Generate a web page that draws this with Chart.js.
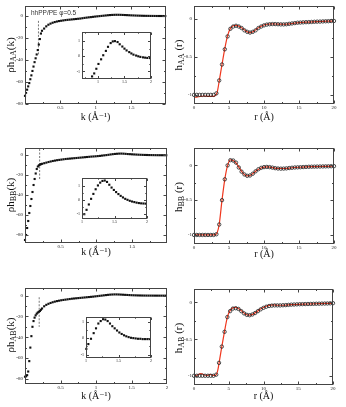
<!DOCTYPE html>
<html>
<head>
<meta charset="utf-8">
<script src="https://cdn.jsdelivr.net/npm/chart.js@4/dist/chart.umd.min.js"></script>
<style>
  html, body { margin: 0; padding: 0; background: #fff; }
  #page { position: relative; width: 346px; height: 407px; overflow: hidden; background: #fff; }
  #page canvas { position: absolute; }
  .ytitle { position: absolute; font-family: 'Liberation Serif', serif; font-size: 11px; color: #111;
            white-space: nowrap; line-height: 12px; transform: translate(-50%, -50%) rotate(-90deg); }
  .ytitle sub { font-size: 8px; vertical-align: -2px; line-height: 0; }
  .note { position: absolute; font-family: 'Liberation Sans', sans-serif; font-size: 6.5px; color: #333; white-space: nowrap; }
</style>
</head>
<body>
<div id="page"></div>
<script>
// ---- data ----

// k grid for the three structure-factor panels (1/A)
var kGrid = [0, 0.015, 0.03, 0.045, 0.06, 0.075, 0.09, 0.105, 0.12, 0.135, 0.15, 0.165, 0.18, 0.195, 0.21, 0.225, 0.24,
  0.27, 0.30, 0.33, 0.36, 0.39, 0.42, 0.45, 0.48, 0.51, 0.54, 0.57, 0.60, 0.63, 0.66, 0.69, 0.72, 0.75, 0.78, 0.81, 0.84, 0.87, 0.90, 0.93, 0.96, 0.99,
  1.02, 1.05, 1.08, 1.11, 1.14, 1.17, 1.20, 1.23, 1.26, 1.29, 1.32, 1.35, 1.38, 1.41, 1.44, 1.47, 1.50, 1.53, 1.56, 1.59, 1.62, 1.65, 1.68, 1.71, 1.74, 1.77, 1.80, 1.83, 1.86, 1.89, 1.92, 1.95, 1.98];

var rhoHAA = [-72.6, -70, -67, -64, -61, -57.5, -54, -50, -46, -42, -38.5, -35, -31, -26, -21, -16, -13.5,
  -11.5, -9.5, -8, -7, -6.2, -5.6, -5.1, -4.7, -4.4, -4.1, -3.8, -3.6, -3.4, -3.2, -3.0, -2.8, -2.6, -2.4, -2.1, -1.8, -1.55, -1.3, -1.1, -0.85, -0.6,
  -0.4, -0.2, 0, 0.2, 0.4, 0.6, 0.75, 0.9, 0.98, 1.02, 1.01, 0.97, 0.88, 0.8, 0.7, 0.6, 0.5, 0.42, 0.33, 0.26, 0.2, 0.14, 0.09, 0.05, 0.02, -0.01, -0.03, -0.05, -0.07, -0.08, -0.09, -0.1, -0.11];

var rhoHBB = [-85, -80, -73, -66, -58, -51, -44, -37, -30, -24, -18.5, -14, -11.5, -10.3, -9.6, -9.2, -8.8,
  -8.2, -7.6, -7.0, -6.5, -6.0, -5.6, -5.2, -4.9, -4.6, -4.3, -4.0, -3.8, -3.6, -3.4, -3.2, -3.0, -2.8, -2.6, -2.4, -2.2, -2.0, -1.8, -1.6, -1.45, -1.3,
  -1.1, -0.9, -0.6, -0.35, -0.1, 0.2, 0.53, 0.82, 1.06, 1.24, 1.38, 1.41, 1.32, 1.15, 0.97, 0.84, 0.68, 0.55, 0.43, 0.31, 0.21, 0.13, 0.06, 0.01, -0.05, -0.09, -0.12, -0.16, -0.19, -0.21, -0.22, -0.24, -0.24];

var rhoHAB = [-78, -77.6, -76.5, -73, -63, -50, -39, -30, -24.5, -21.2, -19, -17.4, -16.3, -15.5, -14.8, -13.6, -12.4,
  -10.3, -8.9, -7.9, -7.1, -6.4, -5.8, -5.3, -4.9, -4.5, -4.2, -3.9, -3.6, -3.3, -3.0, -2.8, -2.6, -2.4, -2.2, -2.0, -1.8, -1.6, -1.4, -1.2, -1.0, -0.75,
  -0.52, -0.26, -0.02, 0.23, 0.48, 0.72, 0.93, 1.05, 1.13, 1.13, 1.06, 0.96, 0.84, 0.71, 0.6, 0.49, 0.38, 0.3, 0.23, 0.16, 0.11, 0.07, 0.03, 0.01, -0.01, -0.02, -0.03, -0.04, -0.05, -0.06, -0.06, -0.06, -0.06];

// insets (zoom on the peak)
var insetKAA = [0.89, 0.93, 0.97, 1.01, 1.06, 1.10, 1.15, 1.19, 1.24, 1.28, 1.32, 1.37, 1.41, 1.46, 1.50, 1.54, 1.59, 1.63, 1.67, 1.72, 1.76, 1.80, 1.85, 1.89, 1.93, 1.98];
var insetHAA = [-1.33, -1.13, -0.82, -0.5, -0.19, 0.08, 0.37, 0.64, 0.89, 1.0, 1.02, 0.96, 0.81, 0.66, 0.52, 0.40, 0.29, 0.20, 0.12, 0.06, 0.01, -0.03, -0.06, -0.08, -0.10, -0.11];

var insetKBB = [1.035, 1.07, 1.105, 1.14, 1.175, 1.21, 1.245, 1.28, 1.315, 1.35, 1.385, 1.42, 1.455, 1.49, 1.525, 1.56, 1.595, 1.63, 1.665, 1.70, 1.735, 1.77, 1.805, 1.84, 1.875, 1.91, 1.945, 1.98];
var insetHBB = [-0.99, -0.68, -0.3, 0.1, 0.45, 0.78, 1.05, 1.25, 1.37, 1.40, 1.30, 1.10, 0.9, 0.73, 0.58, 0.44, 0.31, 0.2, 0.1, 0.03, -0.04, -0.09, -0.13, -0.17, -0.2, -0.22, -0.23, -0.24];

var insetKAB = [1.005, 1.036, 1.077, 1.118, 1.154, 1.19, 1.226, 1.262, 1.297, 1.333, 1.369, 1.405, 1.441, 1.477, 1.513, 1.549, 1.585, 1.62, 1.656, 1.692, 1.728, 1.764, 1.8, 1.836, 1.872, 1.908, 1.944, 1.98];
var insetHAB = [-0.65, -0.36, -0.04, 0.30, 0.59, 0.88, 1.03, 1.14, 1.12, 1.03, 0.88, 0.72, 0.59, 0.46, 0.34, 0.25, 0.17, 0.11, 0.06, 0.02, 0.0, -0.02, -0.04, -0.04, -0.06, -0.06, -0.06, -0.06];

// dashed marker line in the k panels
var cutK = [0.19, 0.205, 0.2];
var cutTop = [-4.5, 6, -1.6];
var cutBottom = [-36, -24, -30];

// r grid for the pair-correlation panels (A), open circles
var rGrid = [0, 0.4, 0.8, 1.2, 1.6, 2, 2.4, 2.8, 3.2, 3.6, 4, 4.4, 4.8, 5.2, 5.6, 6, 6.4, 6.8, 7.2, 7.6, 8, 8.4, 8.8, 9.2, 9.6,
  10, 10.4, 10.8, 11.2, 11.6, 12, 12.4, 12.8, 13.2, 13.6, 14, 14.4, 14.8, 15.2, 15.6, 16, 16.4, 16.8, 17.2, 17.6, 18, 18.4, 18.8, 19.2, 19.6, 20];

var hAA = [-1, -1, -1, -1, -1, -1, -1, -1, -0.98, -0.81, -0.60, -0.40, -0.23, -0.13, -0.10, -0.09, -0.10, -0.12,
  -0.15, -0.17, -0.18, -0.17, -0.15, -0.12, -0.10, -0.085, -0.075, -0.07, -0.068, -0.068, -0.07, -0.072, -0.072, -0.07, -0.065, -0.06, -0.055, -0.05,
  -0.048, -0.045, -0.043, -0.042, -0.04, -0.038, -0.036, -0.035, -0.033, -0.031, -0.03, -0.028, -0.027];

var hBB = [-1, -1, -1, -1, -1, -1, -1, -1, -0.99, -0.85, -0.50, -0.20, 0.0, 0.075, 0.07, 0.04, -0.03, -0.09,
  -0.13, -0.15, -0.145, -0.12, -0.085, -0.055, -0.035, -0.025, -0.022, -0.025, -0.032, -0.04, -0.045, -0.047, -0.046, -0.043, -0.038, -0.034, -0.03, -0.028,
  -0.026, -0.024, -0.022, -0.02, -0.019, -0.018, -0.017, -0.016, -0.015, -0.014, -0.013, -0.012, -0.011];

var hAB = [-0.995, -0.995, -0.995, -0.995, -0.995, -0.995, -0.995, -0.995, -0.98, -0.82, -0.60, -0.40, -0.20, -0.12, -0.085, -0.08, -0.09, -0.12,
  -0.15, -0.17, -0.175, -0.165, -0.145, -0.12, -0.095, -0.075, -0.06, -0.05, -0.045, -0.042, -0.042, -0.042, -0.04, -0.038, -0.035, -0.032, -0.03, -0.028,
  -0.026, -0.025, -0.024, -0.023, -0.022, -0.021, -0.02, -0.019, -0.018, -0.017, -0.016, -0.014, -0.012];

// red fitted curves
var rFitAA = [0, 0.5, 1, 1.5, 2, 2.5, 3, 3.3, 3.6, 4, 4.4, 4.8, 5.2, 5.6, 6, 6.5, 7, 7.5, 8, 8.5, 9, 9.5, 10, 10.5, 11, 12, 13, 14, 15, 16, 17, 18, 19, 20];
var hFitAA = [-1.035, -1.025, -1.02, -1.015, -1.02, -1.02, -1.01, -0.97, -0.82, -0.6, -0.39, -0.22, -0.125, -0.09, -0.085, -0.10, -0.13, -0.165, -0.18, -0.165,
  -0.13, -0.1, -0.08, -0.07, -0.066, -0.068, -0.07, -0.06, -0.05, -0.043, -0.038, -0.034, -0.03, -0.027];

var rFitBB = [0, 1, 2, 3, 3.3, 3.6, 4, 4.4, 4.8, 5.2, 5.6, 6, 6.5, 7, 7.5, 8, 8.5, 9, 9.5, 10, 10.5, 11, 12, 13, 14, 15, 16, 17, 18, 19, 20];
var hFitBB = [-1, -1, -1, -1, -0.97, -0.85, -0.5, -0.2, 0, 0.08, 0.07, 0.035, -0.04, -0.11, -0.15, -0.145, -0.11, -0.07, -0.04, -0.025,
  -0.022, -0.028, -0.044, -0.045, -0.034, -0.027, -0.022, -0.018, -0.016, -0.013, -0.011];

var rFitAB = [0, 0.5, 1, 1.5, 2, 2.3, 2.7, 3.1, 3.4, 3.7, 4, 4.4, 4.8, 5.2, 5.6, 6, 6.5, 7, 7.5, 8, 8.5, 9, 9.5, 10, 10.5, 11, 11.5, 12, 13, 14, 15, 16, 17, 18, 19, 20];
var hFitAB = [-1, -0.985, -0.965, -0.985, -0.99, -0.975, -0.99, -0.99, -0.93, -0.77, -0.6, -0.39, -0.2, -0.11, -0.075, -0.07, -0.09, -0.13, -0.165, -0.175,
  -0.16, -0.13, -0.095, -0.07, -0.05, -0.038, -0.036, -0.04, -0.04, -0.032, -0.027, -0.024, -0.021, -0.019, -0.016, -0.012];

// tick values
var kLabels = [0.5, 1, 1.5];
var kLabelsFull = [0.5, 1, 1.5, 2];
var kMajor = [0.5, 1, 1.5];
var kMinor = [0.25, 0.75, 1.25, 1.75];
var rhoLabels = [-80, -60, -40, -20, 0];
var rhoMinor = [-70, -50, -30, -10];
var rLabels = [0, 5, 10, 15, 20];
var rMinor = [2.5, 7.5, 12.5, 17.5];
var hLabels = [-1, -0.5, 0];
var hMinor = [-0.75, -0.25];
var insetKLabels = [1, 1.5, 2];
var insetKMinor = [0.75, 1.25, 1.75];
var insetYLabels = [-1, 0, 1];
var insetYMinor = [-0.5, 0.5];

// ---- drawing ----

Chart.defaults.animation = false;
Chart.defaults.font.family = "'Liberation Serif', 'DejaVu Serif', serif";
Chart.defaults.color = '#222';

var page = document.getElementById('page');

function addCanvas(left, top, width, height) {
  var c = document.createElement('canvas');
  c.width = width;
  c.height = height;
  c.style.left = left + 'px';
  c.style.top = top + 'px';
  c.style.width = width + 'px';
  c.style.height = height + 'px';
  page.appendChild(c);
  return c;
}

function points(xs, ys) {
  return xs.map(function (x, i) { return {x: x, y: ys[i]}; });
}

// xmgrace-like box with inward ticks on all four sides
var framePlugin = {
  id: 'frame',
  beforeDraw: function (chart) {
    var a = chart.chartArea;
    chart.ctx.save();
    chart.ctx.fillStyle = '#fff';
    chart.ctx.fillRect(a.left, a.top, a.width, a.height);
    chart.ctx.restore();
  },
  afterDatasetsDraw: function (chart, args, opts) {
    var ctx = chart.ctx, a = chart.chartArea, sx = chart.scales.x, sy = chart.scales.y;
    var l = Math.round(a.left) + 0.5, r = Math.round(a.right) - 0.5;
    var t = Math.round(a.top) + 0.5, b = Math.round(a.bottom) - 0.5;
    ctx.save();
    ctx.strokeStyle = '#444';
    ctx.lineWidth = 1;
    ctx.beginPath();
    function xMarks(list, len) {
      list.forEach(function (v) {
        var p = Math.round(sx.getPixelForValue(v)) + 0.5;
        ctx.moveTo(p, b); ctx.lineTo(p, b - len);
        ctx.moveTo(p, t); ctx.lineTo(p, t + len);
      });
    }
    function yMarks(list, len) {
      list.forEach(function (v) {
        var p = Math.round(sy.getPixelForValue(v)) + 0.5;
        ctx.moveTo(l, p); ctx.lineTo(l + len, p);
        ctx.moveTo(r, p); ctx.lineTo(r - len, p);
      });
    }
    xMarks(opts.xMajor, opts.major);
    xMarks(opts.xMinor, opts.minor);
    yMarks(opts.yMajor, opts.major);
    yMarks(opts.yMinor, opts.minor);
    ctx.stroke();
    ctx.strokeRect(l, t, r - l, b - t);
    ctx.restore();
  }
};

function fmt(v) { return String(v); }

function makePanel(p) {
  var canvas = addCanvas(p.box.l - p.yw, p.box.t - p.padTop,
    p.box.r - p.box.l + p.yw + p.padRight, p.box.b - p.box.t + p.padTop + p.xh);
  return new Chart(canvas, {
    type: 'scatter',
    data: {datasets: p.datasets},
    options: {
      responsive: false,
      devicePixelRatio: 1,
      layout: {padding: {top: p.padTop, right: p.padRight, left: 0, bottom: 0}},
      plugins: {
        legend: {display: false},
        tooltip: {enabled: false},
        frame: {xMajor: p.xMajor, xMinor: p.xMinor, yMajor: p.yMajor, yMinor: p.yMinor, major: p.major, minor: p.minor}
      },
      scales: {
        x: {
          type: 'linear', min: p.xRange[0], max: p.xRange[1],
          grid: {display: false, drawTicks: false}, border: {display: false},
          ticks: {font: {size: p.tickSize}, padding: 1, maxRotation: 0, autoSkip: false, callback: fmt, color: '#222'},
          afterBuildTicks: function (s) { s.ticks = p.xLabels.map(function (v) { return {value: v}; }); },
          afterFit: function (s) { s.height = p.xh; },
          title: {display: !!p.xTitle, text: p.xTitle, font: {size: 10}, color: '#111', padding: {top: 0, bottom: 0}}
        },
        y: {
          type: 'linear', min: p.yRange[0], max: p.yRange[1],
          grid: {display: false, drawTicks: false}, border: {display: false},
          ticks: {font: {size: p.tickSize}, padding: 2, autoSkip: false, callback: fmt, color: '#222'},
          afterBuildTicks: function (s) { s.ticks = p.yLabels.map(function (v) { return {value: v}; }); },
          afterFit: function (s) { s.width = p.yw; }
        }
      }
    },
    plugins: [framePlugin]
  });
}

function squares(xs, ys) {
  return {data: points(xs, ys), pointStyle: 'rect', pointRadius: 1.5, pointBackgroundColor: '#111',
    pointBorderWidth: 0, showLine: false, clip: false, order: 0};
}

function cutLine(i) {
  return {data: [{x: cutK[i], y: cutTop[i]}, {x: cutK[i], y: cutBottom[i]}], showLine: true, pointRadius: 0,
    borderColor: '#555', borderWidth: 0.8, borderDash: [2, 1.5], order: 1};
}

function circles(xs, ys) {
  return {data: points(xs, ys), pointStyle: 'circle', pointRadius: 1.7, pointBorderWidth: 0.8,
    pointBorderColor: '#222', pointBackgroundColor: 'rgba(0,0,0,0)', showLine: false, clip: false, order: 0};
}

function fitLine(xs, ys) {
  return {data: points(xs, ys), showLine: true, pointRadius: 0, borderColor: 'rgb(240,55,30)',
    borderWidth: 1.2, cubicInterpolationMode: 'monotone', order: 1};
}

var kPanels = [
  {box: {l: 25, t: 5, r: 166, b: 104}, yRange: [-80, 9], xRange: [0, 1.99], xLabels: kLabels, titleY: 117,
   data: rhoHAA, inset: {box: {l: 82, t: 30, r: 152, b: 79}, xRange: [0.7, 2], yRange: [-1.5, 1.6], k: insetKAA, h: insetHAA}},
  {box: {l: 25, t: 147, r: 167, b: 243}, yRange: [-88, 7], xRange: [0, 1.99], xLabels: kLabels, titleY: 252,
   data: rhoHBB, inset: {box: {l: 82, t: 176, r: 148, b: 219}, xRange: [1, 2], yRange: [-1.33, 1.55], k: insetKBB, h: insetHBB}},
  {box: {l: 25, t: 287, r: 167, b: 384}, yRange: [-85, 7.3], xRange: [0, 2], xLabels: kLabelsFull, titleY: 396,
   data: rhoHAB, inset: {box: {l: 86, t: 315, r: 152, b: 358}, xRange: [1, 2], yRange: [-1.2, 1.25], k: insetKAB, h: insetHAB}}
];

kPanels.forEach(function (kp, i) {
  makePanel({
    box: kp.box, yw: 24, padTop: 4, padRight: 5, xh: kp.titleY - kp.box.b + 6,
    xRange: kp.xRange, yRange: kp.yRange, xLabels: kp.xLabels, yLabels: rhoLabels,
    xMajor: kMajor, xMinor: kMinor, yMajor: rhoLabels, yMinor: rhoMinor, major: 3, minor: 1.5,
    tickSize: 5, xTitle: 'k (\u00c5\u207b\u00b9)',
    datasets: [squares(kGrid, kp.data), cutLine(i)]
  });
  var ins = kp.inset;
  makePanel({
    box: ins.box, yw: 8, padTop: 2, padRight: 3, xh: 7,
    xRange: ins.xRange, yRange: ins.yRange, xLabels: insetKLabels, yLabels: insetYLabels,
    xMajor: insetKLabels, xMinor: insetKMinor, yMajor: insetYLabels, yMinor: insetYMinor, major: 2.5, minor: 1.2,
    tickSize: 4, xTitle: '',
    datasets: [squares(ins.k, ins.h)]
  });
});

var rPanels = [
  {box: {l: 194, t: 5, r: 334, b: 104}, yRange: [-1.12, 0.17], titleY: 117, h: hAA, rf: rFitAA, hf: hFitAA},
  {box: {l: 194, t: 147, r: 334, b: 244}, yRange: [-1.13, 0.25], titleY: 254, h: hBB, rf: rFitBB, hf: hFitBB},
  {box: {l: 194, t: 288, r: 333, b: 385}, yRange: [-1.12, 0.18], titleY: 396, h: hAB, rf: rFitAB, hf: hFitAB}
];

rPanels.forEach(function (rp) {
  makePanel({
    box: rp.box, yw: 22, padTop: 4, padRight: 5, xh: rp.titleY - rp.box.b + 6,
    xRange: [0, 20], yRange: rp.yRange, xLabels: rLabels, yLabels: hLabels,
    xMajor: rLabels, xMinor: rMinor, yMajor: hLabels, yMinor: hMinor, major: 3, minor: 1.5,
    tickSize: 5, xTitle: 'r (\u00c5)',
    datasets: [circles(rGrid, rp.h), fitLine(rp.rf, rp.hf)]
  });
});

// rotated y titles with subscripts
var yTitles = [
  {html: '\u03c1h<sub>AA</sub>(k)', x: 10, y: 55},
  {html: '\u03c1h<sub>BB</sub>(k)', x: 10, y: 195},
  {html: '\u03c1h<sub>AB</sub>(k)', x: 10, y: 335},
  {html: 'h<sub>AA</sub> (r)', x: 178, y: 55},
  {html: 'h<sub>BB</sub> (r)', x: 178, y: 197},
  {html: 'h<sub>AB</sub> (r)', x: 178, y: 338}
];
yTitles.forEach(function (t) {
  var d = document.createElement('div');
  d.className = 'ytitle';
  d.innerHTML = t.html;
  d.style.left = t.x + 'px';
  d.style.top = t.y + 'px';
  page.appendChild(d);
});

var note = document.createElement('div');
note.className = 'note';
note.textContent = 'hhPP/PE \u03c6=0.5';
note.style.left = '31px';
note.style.top = '9px';
page.appendChild(note);
</script>
</body>
</html>
